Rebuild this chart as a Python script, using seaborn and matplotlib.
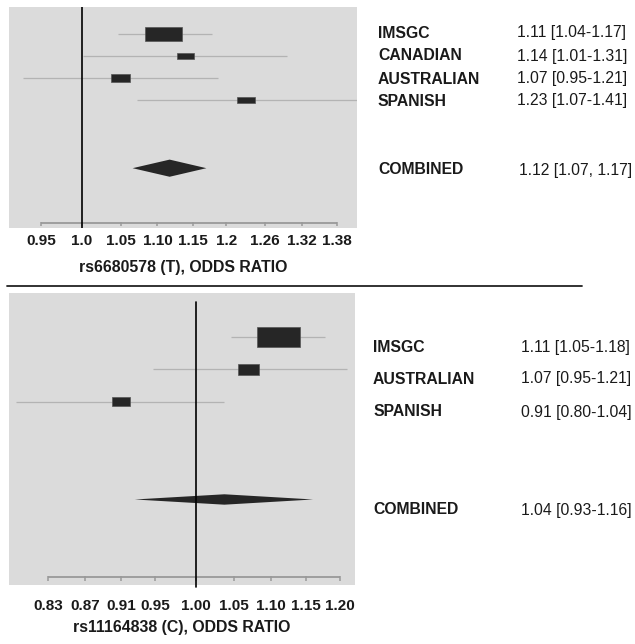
import numpy as np
import matplotlib
matplotlib.use("Agg")
import matplotlib.pyplot as plt
from matplotlib.lines import Line2D
from matplotlib.ticker import NullLocator
import seaborn as sns

# ---- data: panel 1, rs6680578 (T)
studies_1 = ["IMSGC", "CANADIAN", "AUSTRALIAN", "SPANISH"]
or_1 = [1.109, 1.139, 1.05, 1.23]
lo_1 = [1.046, 1.001, 0.928, 1.072]
hi_1 = [1.179, 1.296, 1.187, 1.42]
weight_1 = [1.0, 0.46, 0.51, 0.46]
text_1 = ["1.11 [1.04-1.17]", "1.14 [1.01-1.31]", "1.07 [0.95-1.21]", "1.23 [1.07-1.41]"]
comb_1 = (1.117, 1.066, 1.17)
comb_text_1 = "1.12 [1.07, 1.17]"
ticks_1 = [0.95, 1.0, 1.05, 1.10, 1.15, 1.2, 1.26, 1.32, 1.38]
ticklabels_1 = ["0.95", "1.0", "1.05", "1.10", "1.15", "1.2", "1.26", "1.32", "1.38"]
xlabel_1 = "rs6680578 (T), ODDS RATIO"

# ---- data: panel 2, rs11164838 (C)
studies_2 = ["IMSGC", "AUSTRALIAN", "SPANISH"]
or_2 = [1.11, 1.069, 0.91]
lo_2 = [1.046, 0.947, 0.797]
hi_2 = [1.177, 1.21, 1.036]
weight_2 = [1.0, 0.51, 0.44]
text_2 = ["1.11 [1.05-1.18]", "1.07 [0.95-1.21]", "0.91 [0.80-1.04]"]
comb_2 = (1.037, 0.926, 1.16)
comb_text_2 = "1.04 [0.93-1.16]"
ticks_2 = [0.83, 0.87, 0.91, 0.95, 1.00, 1.05, 1.10, 1.15, 1.20]
ticklabels_2 = ["0.83", "0.87", "0.91", "0.95", "1.00", "1.05", "1.10", "1.15", "1.20"]
xlabel_2 = "rs11164838 (C), ODDS RATIO"

sns.set_theme(style="white")
plt.rcParams["font.family"] = ["Liberation Sans", "DejaVu Sans"]

W, H = 635, 644
fig = plt.figure(figsize=(W / 100, H / 100), dpi=100)

BG = "#dbdbdb"
BOX = "#262626"
CI = "#b3b3b3"
INK = "#1a1a1a"


def px_axes(x0, y0, x1, y1):
    return fig.add_axes([x0 / W, 1 - y1 / H, (x1 - x0) / W, (y1 - y0) / H])


def forest(ax, ors, los, his, weights, comb, comb_y, ticks, labels, xlim, ylim,
           box_w, box_h, dia_h, tick_y):
    ax.set_facecolor(BG)
    ax.set_xscale("log")
    rows = np.arange(len(ors))
    ax.hlines(rows, los, his, color=CI, lw=0.9, zorder=2)
    for r, est, w in zip(rows, ors, weights):
        hw = box_w * w / 2
        left = est * np.exp(-hw)
        ax.barh(r, est * np.exp(hw) - left, left=left, height=box_h * w,
                color=BOX, edgecolor="#555555", lw=0.5, zorder=3)
    est, lo, hi = comb
    ax.fill([lo, est, hi, est], [comb_y, comb_y - dia_h, comb_y, comb_y + dia_h],
            color=BOX, lw=0, zorder=3)
    # scale line drawn inside the panel
    ax.hlines(tick_y, ticks[0], ticks[-1], color="#999999", lw=1.3, zorder=2)
    ax.vlines(ticks, tick_y - 0.03, tick_y + 0.14, color="#999999", lw=1.1, zorder=2)
    ax.set_xlim(*xlim)
    ax.set_ylim(*ylim)
    ax.set_xticks(ticks, labels)
    ax.xaxis.set_minor_locator(NullLocator())
    ax.set_yticks([])
    for lab in ax.get_xticklabels():
        lab.set_fontweight("bold")
    sns.despine(ax=ax, left=True, bottom=True, right=True, top=True)


# top panel
ax1 = px_axes(9, 7, 357, 228)
forest(ax1, or_1, lo_1, hi_1, weight_1, comb_1, 6.1, ticks_1, ticklabels_1,
       (0.912, 1.415), (8.82, -1.23), 0.0467, 0.64, 0.39, 8.59)
ax1.axvline(1.0, color="black", lw=1.2, zorder=4)
ax1.tick_params(axis="x", length=0, pad=4.5, labelsize=11, colors=INK)
ax1.set_xlabel(xlabel_1, fontsize=11.4, fontweight="bold", labelpad=8.5, color=INK)

# bottom panel
ax2 = px_axes(9, 293, 355, 585)
forest(ax2, or_2, lo_2, hi_2, weight_2, comb_2, 5.0, ticks_2, ticklabels_2,
       (0.790, 1.223), (7.63, -1.35), 0.054, 0.62, 0.16, 7.38)
ax2.axvline(1.0, ymin=-0.007, ymax=0.969, color="black", lw=1.2, zorder=4, clip_on=False)
ax2.tick_params(axis="x", length=0, pad=10, labelsize=11, colors=INK)
ax2.set_xlabel(xlabel_2, fontsize=11.4, fontweight="bold", labelpad=5, color=INK)

# separator
fig.add_artist(Line2D([7 / W, 582 / W], [1 - 286 / H, 1 - 286 / H], color="#222222", lw=1.3))

# right-hand text columns
FS = 11.3
for name, txt, y in zip(studies_1 + ["COMBINED"], text_1 + [comb_text_1], [33, 56, 79, 101, 170]):
    fig.text(378 / W, 1 - y / H, name, fontsize=FS, fontweight="bold", va="center", color=INK)
    x = 519 if name == "COMBINED" else 517
    fig.text(x / W, 1 - y / H, txt, fontsize=FS, va="center", color=INK)

for name, txt, y in zip(studies_2 + ["COMBINED"], text_2 + [comb_text_2], [347, 379, 412, 510]):
    fig.text(373 / W, 1 - y / H, name, fontsize=FS, fontweight="bold", va="center", color=INK)
    fig.text(521 / W, 1 - y / H, txt, fontsize=FS, va="center", color=INK)

fig.savefig("out.png", dpi=100)
